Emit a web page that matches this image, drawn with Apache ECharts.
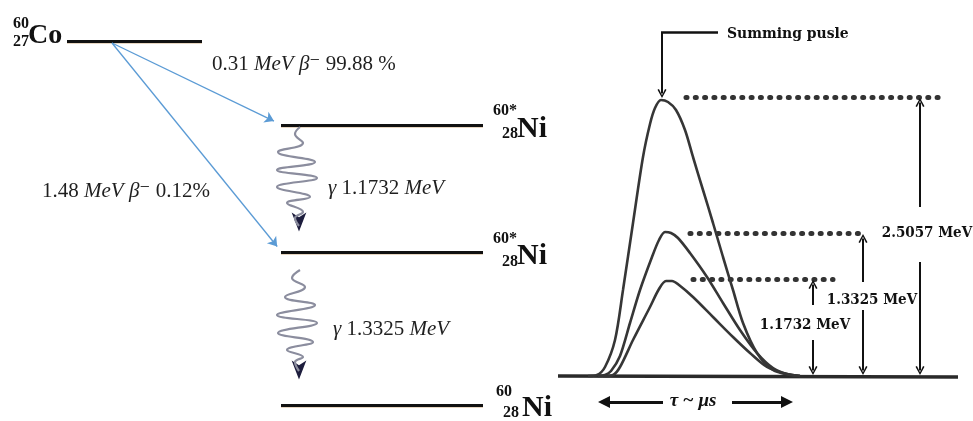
<!DOCTYPE html>
<html><head><meta charset="utf-8">
<script src="https://cdn.jsdelivr.net/npm/echarts@6/dist/echarts.min.js"></script>
<style>html,body{margin:0;padding:0;background:#fff}#c{width:973px;height:421px}</style>
</head><body><div id="c"></div>
<script>
// ================= DATA =================
// Decay scheme: energy levels (diagram rows / spans)
const levelNames = ['Co', 'Ni', 'Ni', 'Ni'];
const levelMass  = ['60', '60*', '60*', '60'];
const levelZ     = ['27', '28', '28', '28'];
const levelRow   = [41, 125, 252, 405];
const levelFrom  = [67, 281, 281, 281];
const levelTo    = [202, 483, 483, 483];

// Beta branches
const betaEnergy = ['0.31', '1.48'];
const betaBranch = ['99.88 %', '0.12%'];
const betaStartX = [112, 112];
const betaStartY = [43, 43];
const betaTipX   = [278, 280];
const betaTipY   = [123, 250];

// Gamma transitions
const gammaEnergy = ['1.1732', '1.3325'];
const photon1X = [300, 295, 303, 278, 315, 277, 317, 277, 310, 287, 303, 295, 299];
const photon1Y = [127, 134, 143, 152, 162, 170, 178, 187, 197, 203, 212, 218, 226];
const photon2X = [300, 292, 305, 285, 315, 277, 317, 278, 313, 287, 303, 295, 299];
const photon2Y = [270, 278, 287, 297, 305, 315, 323, 333, 342, 350, 357, 362, 371];
const photonTipY = [241, 389];

// Detector pulses (time, height)
const sumPulseT = [588, 597, 605, 615, 623, 633, 643, 650, 655, 661, 668, 676, 685, 693, 703, 713, 723, 733, 743, 757, 773, 790, 800];
const sumPulseH = [376, 375, 367, 340, 290, 223, 157, 124, 108, 100, 102, 110, 130, 157, 190, 223, 257, 290, 323, 353, 370, 375, 376];
const g2PulseT  = [598, 605, 611, 620, 630, 640, 652, 659, 665, 671, 678, 690, 707, 723, 740, 757, 773, 787, 800];
const g2PulseH  = [376, 375, 371, 356, 323, 290, 257, 240, 232, 233, 238, 253, 277, 303, 330, 353, 368, 374, 376];
const g1PulseT  = [603, 613, 620, 633, 650, 659, 666, 672, 679, 693, 713, 733, 750, 767, 783, 800];
const g1PulseH  = [376, 375, 367, 340, 307, 289, 281, 281, 285, 297, 317, 337, 353, 367, 373, 376];

const pulseLabels  = ['2.5057 MeV', '1.3325 MeV', '1.1732 MeV'];
const pulseLevelY  = [97, 233, 279];
const dotFrom      = [686, 690, 693];
const dotTo        = [940, 860, 833];
const arrowX       = [920, 863, 813];
const arrowUpTail  = [207, 282, 305];
const arrowDnTail  = [262, 310, 340];
const labelX       = [927, 872, 805];
const labelY       = [233, 300, 325];
const baselineY    = 376;

// ================= RENDER =================
const SERIF = "'Liberation Serif','DejaVu Serif',serif";
const COND  = "'DejaVu Serif Condensed','DejaVu Serif',serif";
const zip = (a, b) => a.map((v, i) => [v, b[i]]);
function pullBack(x0, y0, x1, y1, d) {
  const dx = x1 - x0, dy = y1 - y0, L = Math.hypot(dx, dy);
  return [x1 - dx / L * d, y1 - dy / L * d];
}
function arrowSeg(x0, y0, x1, y1, d) { return { coords: [[x0, y0], pullBack(x0, y0, x1, y1, d)] }; }
const CHEVRON = 'path://M0,10 L5,0 L10,10 L8.4,10.8 L5,3.4 L1.6,10.8 Z';

function txt(x, y, fmt, opt) {
  return {
    value: [x, y],
    label: Object.assign({
      show: true, position: 'inside', formatter: fmt, opacity: 1,
      align: 'left', verticalAlign: 'middle', color: '#1a1a1a'
    }, opt)
  };
}

const richLeft = {
  n: { fontFamily: SERIF, fontSize: 21, color: '#1f1f1f', opacity: 1 },
  i: { fontFamily: SERIF, fontSize: 21, fontStyle: 'italic', color: '#1f1f1f', opacity: 1 }
};

const texts = [];
texts.push(txt(212, 64, `{n|${betaEnergy[0]} }{i|MeV β⁻}{n| ${betaBranch[0]}}`, { rich: richLeft }));
texts.push(txt(42, 191, `{n|${betaEnergy[1]} }{i|MeV β⁻}{n| ${betaBranch[1]}}`, { rich: richLeft }));
texts.push(txt(328, 188, `{i|γ}{n| ${gammaEnergy[0]} }{i|MeV}`, { rich: richLeft }));
texts.push(txt(333, 329, `{i|γ}{n| ${gammaEnergy[1]} }{i|MeV}`, { rich: richLeft }));
const isoX = [[13, 13, 28], [493, 502, 517], [493, 502, 517], [496, 503, 522]];
const isoY = [[24, 42, 36], [111, 134, 129], [239, 262, 256], [392, 413, 408]];
levelNames.forEach((nm, i) => {
  const big = i === 0 ? 28 : 30;
  texts.push(txt(isoX[i][0], isoY[i][0], levelMass[i], { fontFamily: SERIF, fontWeight: 'bold', fontSize: 16, color: '#111' }));
  texts.push(txt(isoX[i][1], isoY[i][1], levelZ[i], { fontFamily: SERIF, fontWeight: 'bold', fontSize: 16, color: '#111' }));
  texts.push(txt(isoX[i][2], isoY[i][2], nm, { fontFamily: SERIF, fontWeight: 'bold', fontSize: big, color: '#111' }));
});
pulseLabels.forEach((l, i) => {
  texts.push(txt(labelX[i], labelY[i], l, { align: 'center', fontFamily: COND, fontWeight: 'bold', fontSize: 15, color: '#111' }));
});
texts.push(txt(727, 34, 'Summing pusle', { fontFamily: COND, fontWeight: 'bold', fontSize: 15.5, color: '#111' }));
texts.push(txt(693, 401, 'τ ~ μs', { align: 'center', fontFamily: SERIF, fontWeight: 'bold', fontStyle: 'italic', fontSize: 19, color: '#111' }));

const levelSegs = levelRow.map((y, i) => ({ coords: [[levelFrom[i], y], [levelTo[i], y]] }));
const levelShade = levelRow.map((y, i) => ({ coords: [[levelFrom[i], y + 2], [levelTo[i], y + 2]] }));
const betaSegs = betaTipX.map((x, i) => arrowSeg(betaStartX[i], betaStartY[i], x, betaTipY[i], 4.5));
const dotSegs = pulseLevelY.map((y, i) => ({ coords: [[dotFrom[i], y], [dotTo[i], y]] }));
const vArrows = [];
arrowX.forEach((x, i) => {
  vArrows.push(arrowSeg(x, arrowUpTail[i], x, pulseLevelY[i] + 1, 4.5));
  vArrows.push(arrowSeg(x, arrowDnTail[i], x, baselineY - 1, 4.5));
});
vArrows.push(arrowSeg(662, 32, 662, 98, 4.5));

const pulseStyle = { color: '#363636', width: 2.6 };
const pulseSeries = (t, h) => ({ type: 'line', silent: true, data: zip(t, h), smooth: 0.3,
  symbol: 'none', lineStyle: pulseStyle });
const option = {
  animation: false,
  backgroundColor: '#fff',
  grid: { left: 0, right: 0, top: 0, bottom: 0 },
  xAxis: { type: 'value', min: 0, max: 973, show: false },
  yAxis: { type: 'value', min: 0, max: 421, inverse: true, show: false },
  series: [
    { type: 'lines', coordinateSystem: 'cartesian2d', silent: true, data: levelShade,
      lineStyle: { color: '#c8a474', width: 1.5, opacity: 0.6 } },
    { type: 'lines', coordinateSystem: 'cartesian2d', silent: true, data: levelSegs,
      lineStyle: { color: '#111', width: 3.2, opacity: 1 } },
    { type: 'lines', coordinateSystem: 'cartesian2d', silent: true, data: betaSegs,
      symbol: ['none', 'arrow'], symbolSize: [7, 9],
      lineStyle: { color: '#5b9bd5', width: 1.3, opacity: 1 } },
    { type: 'line', silent: true, data: zip(photon1X, photon1Y), smooth: 0.45, symbol: 'none',
      lineStyle: { color: '#8b8d9e', width: 2.2 } },
    { type: 'line', silent: true, data: zip(photon2X, photon2Y), smooth: 0.45, symbol: 'none',
      lineStyle: { color: '#8b8d9e', width: 2.2 } },
    { type: 'scatter', silent: true, symbol: 'arrow', symbolSize: [11, 19], symbolRotate: 180,
      itemStyle: { color: '#1d1d3d', opacity: 1 },
      data: photonTipY.map((y) => [299, y - 9.5]) },
    { type: 'line', silent: true, data: [[558, baselineY], [958, baselineY + 1]], symbol: 'none',
      lineStyle: { color: '#2a2a2a', width: 3.5 } },
    pulseSeries(sumPulseT, sumPulseH),
    pulseSeries(g2PulseT, g2PulseH),
    pulseSeries(g1PulseT, g1PulseH),
    { type: 'lines', coordinateSystem: 'cartesian2d', silent: true, data: dotSegs,
      lineStyle: { color: '#333', width: 5, type: [1, 8.3], cap: 'round', opacity: 1 } },
    { type: 'lines', coordinateSystem: 'cartesian2d', silent: true, data: vArrows,
      symbol: ['none', CHEVRON], symbolSize: [10, 9],
      lineStyle: { color: '#111', width: 2, opacity: 1 } },
    { type: 'lines', coordinateSystem: 'cartesian2d', silent: true,
      data: [{ coords: [[718, 32], [661, 32]] }],
      lineStyle: { color: '#111', width: 2.5, opacity: 1 } },
    { type: 'lines', coordinateSystem: 'cartesian2d', silent: true,
      data: [arrowSeg(663, 402, 598, 402, 6), arrowSeg(732, 402, 793, 402, 6)],
      symbol: ['none', 'triangle'], symbolSize: [10, 12],
      lineStyle: { color: '#111', width: 2.8, opacity: 1 } },
    { type: 'scatter', silent: true, symbolSize: 1, itemStyle: { color: 'rgba(0,0,0,0)', opacity: 1 }, data: texts, z: 10 }
  ]
};
const chart = echarts.init(document.getElementById('c'));
chart.setOption(option);
</script></body></html>
